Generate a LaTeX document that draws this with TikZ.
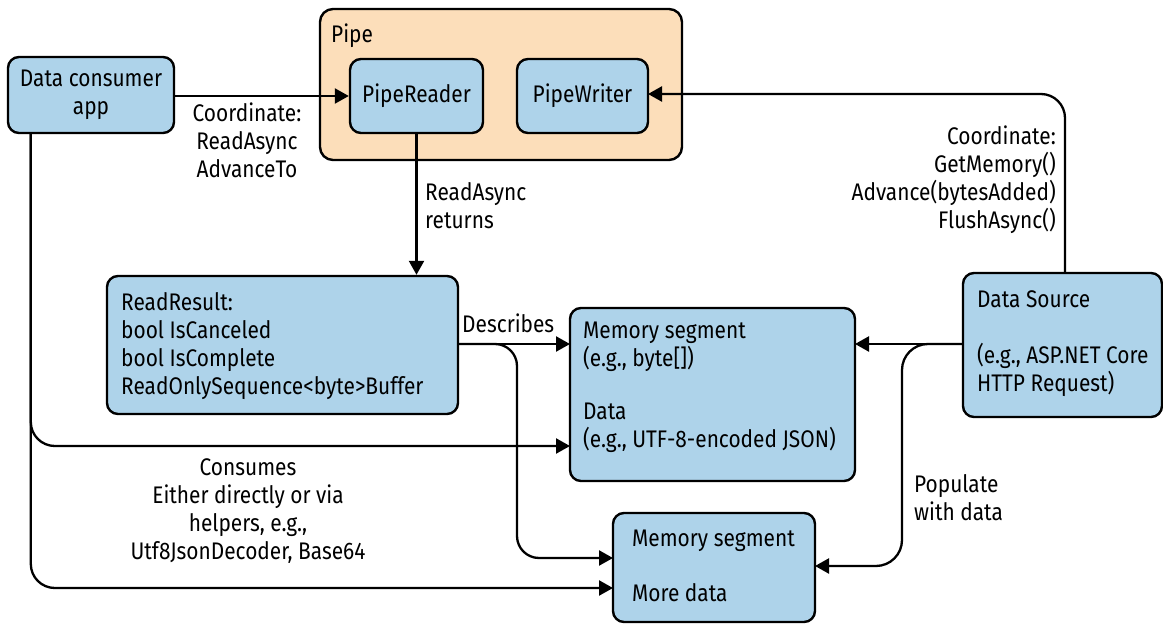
\documentclass[tikz,border=0pt]{standalone}
\usepackage{fontspec}
\setmainfont{Fira Sans}[FakeStretch=0.87]
\usetikzlibrary{arrows.meta}
\definecolor{boxblue}{HTML}{AED3EA}
\definecolor{pipepeach}{HTML}{FCDEBA}
\begin{document}
\begin{tikzpicture}[x=1pt,y=-1pt,
  font=\fontsize{24}{28}\selectfont,
  box/.style={draw, line width=2.4pt, rounded corners=11pt, fill=boxblue, inner sep=0pt, align=center},
  pipebox/.style={draw, line width=2.4pt, rounded corners=13pt, fill=pipepeach, inner sep=0pt},
  lbl/.style={inner sep=0pt},
  arr/.style={line width=2.3pt, -{Triangle[length=14pt,width=15pt]}},
  curvy/.style={rounded corners=24pt}]
\useasboundingbox (0,0) rectangle (1163,626);
% boxes
\node[pipebox, minimum width=362pt, minimum height=151pt] (pipe) at (501,84.5) {};
\node[lbl, anchor=north west] (pipelbl) at (331,24) {Pipe};
\node[box, minimum width=166pt, minimum height=76pt] (consumer) at (91,95) {Data consumer\\app};
\node[box, minimum width=133pt, minimum height=74pt] (reader) at (416.5,96) {PipeReader};
\node[box, minimum width=131pt, minimum height=74pt] (writer) at (582.5,96) {PipeWriter};
\node[box, minimum width=351pt, minimum height=138pt] (readresult) at (282.5,345) {};
\node[lbl, anchor=north west, align=left] (rrtext) at (121,292) {ReadResult:\\bool IsCanceled\\bool IsComplete\\ReadOnlySequence<byte>Buffer};
\node[box, minimum width=285pt, minimum height=173pt] (mem1) at (712.5,394.5) {};
\node[lbl, anchor=north west, align=left] (mem1text) at (583,322) {Memory segment\\(e.g., byte[])\\[25pt]Data\\(e.g., UTF-8-encoded JSON)};
\node[box, minimum width=202pt, minimum height=109pt] (mem2) at (714,567.5) {};
\node[lbl, anchor=north west, align=left] (mem2text) at (632,530) {Memory segment\\[27pt]More data};
\node[box, minimum width=199pt, minimum height=144pt] (source) at (1062.5,345) {};
\node[lbl, anchor=north west, align=left] (sourcetext) at (977,290) {Data Source\\[28pt](e.g., ASP.NET Core\\HTTP Request)};
% connector anchors
\coordinate (m1l1) at (570,344);
\coordinate (m1l2) at (570,446);
\coordinate (m1r) at (855,344);
\coordinate (m2l1) at (613,558);
\coordinate (m2l2) at (613,588);
\coordinate (m2r) at (815,566);
\coordinate (cstart) at ([xshift=24pt]consumer.south west);
\coordinate (rrout) at (458,344);
\coordinate (srcout) at (963,344);
\coordinate (srctop) at (1065,273);
\coordinate (wrin) at (648,94);
% connectors
\draw[arr] (consumer.east |- reader.west) -- (reader.west);
\draw[arr, curvy] (srctop) |- (wrin);
\draw[arr] (reader.south) -- (reader.south |- readresult.north);
\draw[arr] (rrout) -- (m1l1);
\draw[arr, rounded corners=22pt] (rrout) -| (517,558) -- (m2l1);
\draw[arr, curvy] (cstart) |- (m1l2);
\draw[arr, curvy] (cstart) |- (m2l2);
\draw[arr] (srcout) -- (m1r);
\draw[arr, rounded corners=26pt] (srcout) -| (902,566) -- (m2r);
% labels
\node[lbl, anchor=north, align=center] (lcoord) at (247,103) {Coordinate:\\ReadAsync\\AdvanceTo};
\node[lbl, anchor=north east, align=right] (rcoord) at (1056,126) {Coordinate:\\GetMemory()\\Advance(bytesAdded)\\FlushAsync()};
\node[lbl, anchor=north west, align=left] (returns) at (425,182) {ReadAsync\\returns};
\node[lbl, anchor=north west] (describes) at (462,314) {Describes};
\node[lbl, anchor=north, align=center] (consumes) at (248,458) {Consumes\\Either directly or via\\helpers, e.g.,\\Utf8JsonDecoder, Base64};
\node[lbl, anchor=north west, align=left] (populate) at (914,474) {Populate\\with data};
\end{tikzpicture}
\end{document}
